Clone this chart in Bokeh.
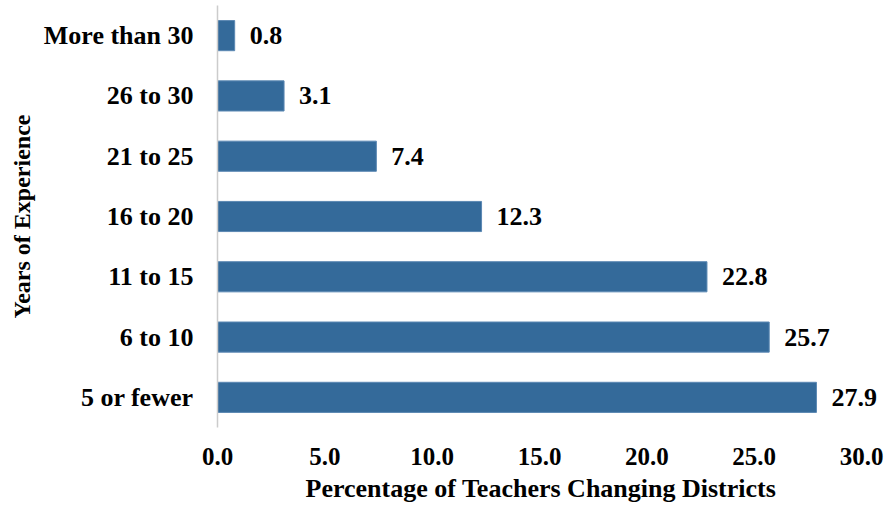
from bokeh.plotting import figure
from bokeh.models import ColumnDataSource, FactorRange, Range1d, FixedTicker, CustomJSTickFormatter, Title
from bokeh.core.properties import value
from bokeh.embed import file_html
from bokeh.resources import INLINE

# Teachers changing districts, by years of experience (top to bottom as listed)
categories = ["More than 30", "26 to 30", "21 to 25", "16 to 20", "11 to 15", "6 to 10", "5 or fewer"]
percentages = [0.8, 3.1, 7.4, 12.3, 22.8, 25.7, 27.9]
x_ticks = [0, 5, 10, 15, 20, 25, 30]

FONT = "Liberation Serif"
BAR_COLOR = "#346a9a"

source = ColumnDataSource(dict(
    cat=categories,
    pct=percentages,
    label=[f"{v:.1f}" for v in percentages],
))

# Bokeh stacks factors bottom-up, so reverse to put "More than 30" on top.
# The x range runs a little past 30 so the value labels have room.
p = figure(
    width=890, height=508,
    y_range=FactorRange(factors=list(reversed(categories)), range_padding=0),
    x_range=Range1d(0, 31.35),
    output_backend="svg", toolbar_location=None,
    min_border_left=217, min_border_right=0,
    min_border_top=5, min_border_bottom=81,
)
p.outline_line_color = None
p.background_fill_color = "white"
p.border_fill_color = "white"
p.grid.visible = False

p.hbar(y="cat", right="pct", left=0, height=0.5, source=source,
       fill_color=BAR_COLOR, line_color="#5b88b3", line_width=1)

p.text(x="pct", y="cat", text="label", source=source,
       x_offset=15, text_align="left", text_baseline="middle",
       text_font=value(FONT), text_font_style="bold",
       text_font_size="26px", text_color="black")

# x axis: labels only, no line or ticks
xa = p.xaxis[0]
xa.ticker = FixedTicker(ticks=x_ticks)
xa.formatter = CustomJSTickFormatter(code="return tick.toFixed(1);")
xa.axis_line_color = None
xa.major_tick_line_color = None
xa.minor_tick_line_color = None
xa.major_label_standoff = 14
xa.major_label_text_font = FONT
xa.major_label_text_font_style = "bold"
xa.major_label_text_font_size = "25px"
xa.major_label_text_color = "black"

# x axis title, centred under the 0-30 span rather than the whole frame
p.add_layout(Title(text="Percentage of Teachers Changing Districts",
                   align="left", offset=88, standoff=8,
                   text_font=FONT, text_font_style="bold",
                   text_font_size="26px", text_color="black"), "below")

# y axis: thin grey baseline at zero
ya = p.yaxis[0]
ya.axis_line_color = "#cccccc"
ya.axis_line_width = 1.5
ya.major_tick_line_color = None
ya.minor_tick_line_color = None
ya.major_label_standoff = 18
ya.major_label_text_font = FONT
ya.major_label_text_font_style = "bold"
ya.major_label_text_font_size = "26px"
ya.major_label_text_color = "black"
ya.axis_label = "Years of Experience"
ya.axis_label_text_font = FONT
ya.axis_label_text_font_style = "bold"
ya.axis_label_text_font_size = "24px"
ya.axis_label_text_color = "black"
ya.axis_label_standoff = 6

open("out.html", "w").write(file_html(p, INLINE))
